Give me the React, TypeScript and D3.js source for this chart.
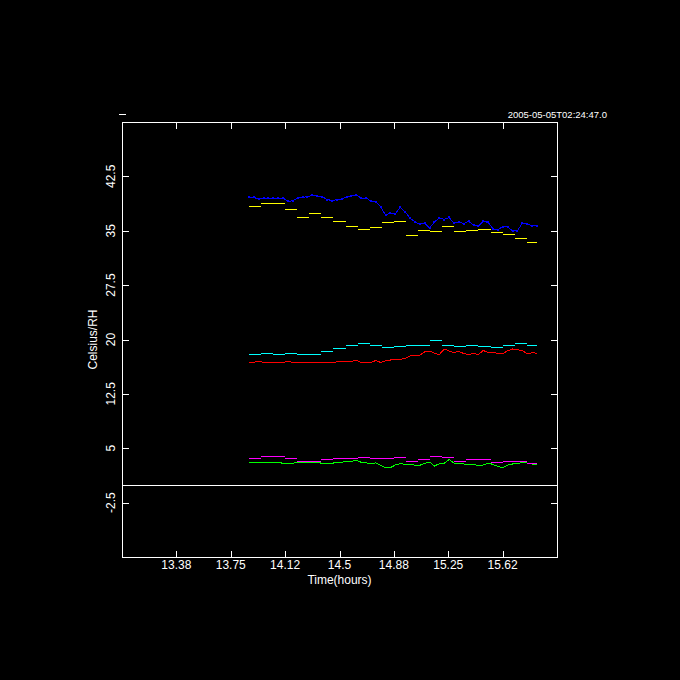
import { useEffect, useRef } from "react";
import * as d3 from "d3";

// 5-minute step series start here, noisy traces run from start to end
const stepStart = 13.875;
const stepHours = 5 / 60;
const traceEnd = 15.862;

const yellowSteps = [38.4, 38.8, 38.8, 38.0, 36.9, 37.4, 36.9, 36.4, 35.6, 35.3, 35.5, 36.2, 36.3, 34.4, 35.1, 34.9, 35.6, 34.9, 35.1, 35.3, 34.8, 34.6, 34.0, 33.5];
const cyanSteps = [18.0, 18.1, 18.0, 18.1, 18.0, 18.0, 18.4, 18.8, 19.2, 19.5, 19.2, 18.9, 19.1, 19.2, 19.2, 19.9, 19.3, 19.1, 19.2, 19.1, 18.9, 19.2, 19.5, 19.3];
const magentaSteps = [3.6, 3.9, 3.9, 3.6, 3.2, 3.3, 3.5, 3.6, 3.6, 3.75, 3.6, 3.6, 3.75, 3.2, 3.5, 4.0, 3.75, 3.2, 3.5, 3.5, 3.1, 3.2, 3.3, 2.9];

const blueTrace = [
  39.61, 39.61, 39.34, 39.45, 39.48, 39.48, 39.48, 39.52, 39.06, 39.14,
  39.48, 39.61, 39.7, 39.89, 39.79, 39.7, 39.31, 39.17, 39.27, 39.38,
  39.66, 39.82, 39.96, 39.48, 39.52, 39.1, 38.97, 38.28, 37.17, 37.45,
  37.31, 38.28, 37.59, 36.76, 36.21, 35.93, 36.07, 35.38, 36.21, 36.76,
  36.55, 36.83, 36.03, 36.21, 36.0, 36.28, 35.79, 35.66, 36.34, 36.14,
  35.24, 35.17, 35.56, 35.52, 34.97, 35.03, 36.03, 35.93, 35.72, 35.66,
];
const redTrace = [
  16.86, 16.86, 16.97, 16.86, 16.86, 16.86, 16.86, 16.86, 16.95, 16.86,
  16.86, 16.86, 16.86, 16.79, 16.86, 16.76, 16.86, 16.86, 16.9, 17.0,
  17.0, 17.0, 17.13, 16.83, 16.83, 16.86, 17.1, 16.83, 17.06, 17.17,
  17.31, 17.24, 17.41, 17.72, 17.79, 17.86, 18.28, 18.41, 18.1, 17.93,
  18.69, 18.41, 18.21, 18.34, 18.07, 17.93, 18.07, 17.93, 18.48, 18.21,
  18.23, 18.07, 18.07, 18.44, 18.69, 18.58, 18.46, 18.03, 18.18, 18.1,
];
const greenTrace = [
  3.06, 3.06, 3.06, 3.06, 3.06, 3.06, 3.06, 2.92, 2.92, 2.92,
  3.06, 3.06, 3.06, 3.06, 3.06, 2.92, 2.92, 2.92, 3.06, 3.06,
  3.2, 3.2, 3.34, 3.06, 2.97, 2.92, 2.97, 2.62, 2.34, 2.34,
  2.69, 2.87, 2.79, 2.79, 2.65, 2.65, 2.9, 3.1, 2.55, 2.87,
  2.92, 3.45, 2.97, 2.9, 2.83, 2.79, 2.79, 2.62, 2.69, 2.97,
  2.76, 2.48, 2.32, 2.69, 2.83, 2.9, 3.03, 2.97, 2.83, 2.76,
];

const xTicks = [13.375, 13.75, 14.125, 14.5, 14.875, 15.25, 15.625];
const xTickLabels = ["13.38", "13.75", "14.12", "14.5", "14.88", "15.25", "15.62"];
const yTicks = [-2.5, 5, 12.5, 20, 27.5, 35, 42.5];
const yTickLabels = ["-2.5", "5", "12.5", "20", "27.5", "35", "42.5"];
const stamp = "2005-05-05T02:24:47.0";

const W = 680;
const H = 680;
const box = { left: 122, right: 557, top: 122, bottom: 557 };
const font = "'Liberation Sans', Arial, sans-serif";

export default function App() {
  const ref = useRef<SVGSVGElement>(null);

  useEffect(() => {
    const svg = d3.select(ref.current);
    svg.selectAll("*").remove();

    const x = d3.scaleLinear().domain([13, 16]).range([box.left, box.right]);
    const y = d3.scaleLinear().domain([-10, 50]).range([box.bottom, box.top]);
    const px = (v: number) => Math.round(v) + 0.5;

    svg.append("rect").attr("width", W).attr("height", H).attr("fill", "#000");

    const traceTime = (i: number, n: number) => stepStart + (i * (traceEnd - stepStart)) / (n - 1);

    const drawTrace = (values: number[], color: string, dots = false) => {
      const line = d3
        .line<number>()
        .x((_, i) => x(traceTime(i, values.length)))
        .y((v) => y(v));
      svg
        .append("path")
        .attr("d", line(values))
        .attr("fill", "none")
        .attr("stroke", color)
        .attr("stroke-width", 1)
        .attr("shape-rendering", "crispEdges");
      if (dots) {
        svg
          .append("g")
          .selectAll("rect")
          .data(values)
          .join("rect")
          .attr("x", (_, i) => Math.round(x(traceTime(i, values.length))) - 1)
          .attr("y", (v) => Math.round(y(v)) - 1)
          .attr("width", 2)
          .attr("height", 2)
          .attr("fill", color);
      }
    };

    const drawSteps = (values: number[], color: string) => {
      svg
        .append("g")
        .selectAll("line")
        .data(values)
        .join("line")
        .attr("x1", (_, i) => Math.round(x(stepStart + i * stepHours)))
        .attr("x2", (_, i) => Math.round(x(Math.min(stepStart + (i + 1) * stepHours, traceEnd))))
        .attr("y1", (v) => px(y(v)))
        .attr("y2", (v) => px(y(v)))
        .attr("stroke", color)
        .attr("stroke-width", 1)
        .attr("shape-rendering", "crispEdges");
    };

    drawTrace(blueTrace, "#0000ff", true);
    drawTrace(redTrace, "#ff0000");
    drawTrace(greenTrace, "#00ff00");
    drawSteps(yellowSteps, "#ffff00");
    drawSteps(cyanSteps, "#00ffff");
    drawSteps(magentaSteps, "#ff00ff");

    // frame, zero line and inward ticks
    const frame = svg.append("g").attr("stroke", "#fff").attr("stroke-width", 1).attr("shape-rendering", "crispEdges");
    frame
      .append("rect")
      .attr("x", box.left + 0.5)
      .attr("y", box.top + 0.5)
      .attr("width", box.right - box.left)
      .attr("height", box.bottom - box.top)
      .attr("fill", "none");
    frame
      .append("line")
      .attr("x1", box.left)
      .attr("x2", box.right)
      .attr("y1", px(y(0)))
      .attr("y2", px(y(0)));
    xTicks.forEach((t) => {
      const xx = px(x(t));
      frame.append("line").attr("x1", xx).attr("x2", xx).attr("y1", box.bottom).attr("y2", box.bottom - 6);
      frame.append("line").attr("x1", xx).attr("x2", xx).attr("y1", box.top).attr("y2", box.top + 7);
    });
    yTicks.forEach((t) => {
      const yy = px(y(t));
      frame.append("line").attr("x1", box.left).attr("x2", box.left + 7).attr("y1", yy).attr("y2", yy);
      frame.append("line").attr("x1", box.right).attr("x2", box.right - 6).attr("y1", yy).attr("y2", yy);
    });
    frame.append("line").attr("x1", 119).attr("x2", 126).attr("y1", 114.5).attr("y2", 114.5);

    svg
      .append("g")
      .selectAll("text")
      .data(xTicks)
      .join("text")
      .attr("x", (t) => x(t))
      .attr("y", 569)
      .attr("text-anchor", "middle")
      .attr("font-family", font)
      .attr("font-size", 12)
      .attr("fill", "#fff")
      .text((_, i) => xTickLabels[i]);

    svg
      .append("g")
      .selectAll("text")
      .data(yTicks)
      .join("text")
      .attr("transform", (t) => `translate(115,${y(t)}) rotate(-90)`)
      .attr("text-anchor", "middle")
      .attr("font-family", font)
      .attr("font-size", 12)
      .attr("fill", "#fff")
      .text((_, i) => yTickLabels[i]);

    svg
      .append("text")
      .attr("x", (box.left + box.right) / 2)
      .attr("y", 584)
      .attr("text-anchor", "middle")
      .attr("font-family", font)
      .attr("font-size", 12)
      .attr("fill", "#fff")
      .text("Time(hours)");

    svg
      .append("text")
      .attr("transform", `translate(97,${(box.top + box.bottom) / 2}) rotate(-90)`)
      .attr("text-anchor", "middle")
      .attr("font-family", font)
      .attr("font-size", 12)
      .attr("fill", "#fff")
      .text("Celsius/RH");

    svg
      .append("text")
      .attr("x", 607)
      .attr("y", 118)
      .attr("text-anchor", "end")
      .attr("font-family", font)
      .attr("font-size", 9.5)
      .attr("fill", "#fff")
      .text(stamp);
  }, []);

  return (
    <div style={{ position: "fixed", left: 0, top: 0, width: W, height: H, background: "#000" }}>
      <svg ref={ref} width={W} height={H} style={{ display: "block" }} />
    </div>
  );
}
